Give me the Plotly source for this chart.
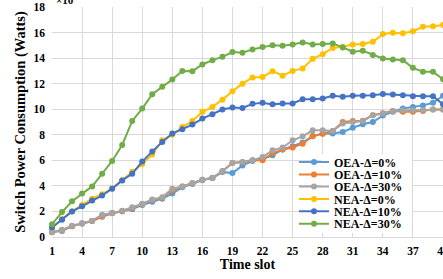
import plotly.graph_objects as go

time_slot = list(range(1, 41))

oea_0 = [0.4, 0.46, 0.85, 1.05, 1.25, 1.58, 1.85, 2.02, 2.18, 2.5, 2.75, 3.0, 3.4, 3.9, 4.15, 4.45, 4.62, 5.08, 5.0, 5.6,
         5.95, 6.1, 6.4, 6.85, 7.1, 7.4, 7.9, 8.1, 8.1, 8.22, 8.55, 8.82, 9.0, 9.5, 9.8, 10.05, 10.18, 10.3, 10.5, 11.05]
oea_10 = [0.38, 0.52, 0.85, 1.05, 1.25, 1.62, 1.87, 2.02, 2.25, 2.58, 2.9, 3.08, 3.65, 3.95, 4.2, 4.48, 4.62, 5.15, 5.8, 5.85,
          6.0, 6.0, 6.57, 6.84, 7.0, 7.3, 7.88, 8.09, 8.3, 9.0, 9.08, 9.1, 9.53, 9.68, 9.87, 9.8, 9.8, 9.87, 9.98, 9.98]
oea_30 = [0.38, 0.56, 0.88, 1.07, 1.28, 1.74, 1.87, 2.06, 2.32, 2.6, 2.94, 3.12, 3.78, 3.96, 4.22, 4.48, 4.64, 5.16, 5.79, 5.87,
          6.0, 6.26, 6.78, 7.0, 7.57, 7.88, 8.35, 8.35, 8.3, 8.88, 9.0, 9.08, 9.53, 9.66, 9.87, 9.92, 9.92, 9.94, 9.98, 9.98]
nea_0 = [0.7, 1.4, 2.0, 2.5, 3.0, 3.35, 3.8, 4.45, 5.1, 5.72, 6.45, 7.57, 8.0, 8.6, 9.08, 9.8, 10.18, 10.75, 11.4, 12.0,
         12.49, 12.53, 12.98, 12.62, 13.0, 13.19, 13.95, 14.31, 14.8, 14.89, 15.07, 15.1, 15.28, 15.88, 15.98, 15.94, 16.1, 16.45, 16.5, 16.59]
nea_10 = [0.75, 1.35, 2.0, 2.4, 2.85, 3.25, 3.78, 4.43, 4.95, 5.9, 6.7, 7.44, 8.1, 8.43, 8.8, 9.27, 9.6, 9.98, 10.13, 10.1,
          10.42, 10.5, 10.38, 10.45, 10.45, 10.78, 10.78, 10.84, 11.05, 10.97, 11.05, 11.05, 11.1, 11.2, 11.15, 11.1, 11.02, 11.02, 11.02, 10.39]
nea_30 = [1.0, 1.95, 2.8, 3.4, 3.96, 4.95, 5.95, 7.2, 9.08, 10.05, 11.18, 11.75, 12.33, 13.0, 12.98, 13.5, 13.84, 14.1, 14.47, 14.42,
          14.68, 14.86, 15.0, 14.97, 15.07, 15.23, 15.07, 15.1, 15.15, 14.84, 14.5, 14.57, 14.24, 13.97, 13.9, 13.84, 13.24, 12.93, 12.93, 12.35]

series_names = ["OEA-Δ=0%", "OEA-Δ=10%", "OEA-Δ=30%", "NEA-Δ=0%", "NEA-Δ=10%", "NEA-Δ=30%"]
series_values = [oea_0, oea_10, oea_30, nea_0, nea_10, nea_30]
colors = ["#5B9BD5", "#ED7D31", "#A5A5A5", "#FFC000", "#4472C4", "#70AD47"]

x_ticks = list(range(1, 41, 3))
y_ticks = list(range(0, 19, 2))

FONT = "Liberation Serif"

# figure geometry (pixels)
W, H = 443, 279
ML, MR, MT, MB = 52, 0, 7, 42
PW, PH = W - ML - MR, H - MT - MB


def px_x(p):
    return (p - ML) / PW


def px_y(p):
    return (H - MB - p) / PH


fig = go.Figure()
legend_keys = ["legend", "legend2", "legend3", "legend4", "legend5", "legend6"]
for name, vals, col, lk in zip(series_names, series_values, colors, legend_keys):
    fig.add_trace(go.Scatter(
        x=time_slot, y=vals, name=name, mode="lines+markers",
        line=dict(color=col, width=2),
        marker=dict(color=col, size=6, symbol="circle"),
        cliponaxis=False, legend=lk,
    ))

# legend entries: one native legend per series, stacked closely like the reference
legend_centers = [162, 174.5, 186.5, 199, 211.3, 223.7]
legend_layout = {}
for lk, cy in zip(legend_keys, legend_centers):
    legend_layout[lk] = dict(
        x=px_x(294), y=px_y(cy), xanchor="left", yanchor="middle",
        bgcolor="rgba(0,0,0,0)", borderwidth=0,
        font=dict(family=FONT, size=12, color="#000000", weight="bold"),
        itemwidth=30,
    )

fig.update_layout(
    width=W, height=H,
    margin=dict(l=ML, r=MR, t=MT, b=MB, autoexpand=False),
    paper_bgcolor="white", plot_bgcolor="white",
    font=dict(family=FONT, size=12, color="#000000"),
    showlegend=True,
    xaxis=dict(
        range=[1, 40], tickmode="array", tickvals=x_ticks,
        ticktext=[f"<b>{t}</b>" for t in x_ticks],
        showgrid=True, gridcolor="#D9D9D9", gridwidth=1,
        showline=True, linecolor="#D9D9D9", linewidth=1,
        zeroline=False, ticks="", automargin=False,
        ticklabeloverflow="allow",
        tickfont=dict(family=FONT, size=11.5, color="#000000"),
        ticklabelstandoff=3,
        title=dict(text="<b>Time slot</b>", font=dict(family=FONT, size=14, color="#000000"), standoff=2),
    ),
    yaxis=dict(
        range=[0, 18], tickmode="array", tickvals=y_ticks,
        ticktext=[f"<b>{t}</b>" for t in y_ticks],
        showgrid=True, gridcolor="#D9D9D9", gridwidth=1,
        showline=False, zeroline=False, ticks="", automargin=False,
        ticklabeloverflow="allow",
        tickfont=dict(family=FONT, size=11.5, color="#000000"),
        ticklabelstandoff=6,
        title=dict(text="<b>Switch Power Consumption (Watts)</b>", font=dict(family=FONT, size=14.5, color="#000000"), standoff=4),
    ),
    **legend_layout,
)

# white legend background box (as in the reference)
fig.add_shape(
    type="rect", xref="paper", yref="paper",
    x0=px_x(321), x1=px_x(412), y0=px_y(233), y1=px_y(154),
    fillcolor="white", line=dict(width=0), layer="above",
)

fig.add_annotation(
    xref="paper", yref="paper", x=0.0, y=1.0, xanchor="left", yanchor="bottom",
    xshift=2, yshift=-1,
    text="<b>×10<sup>4</sup></b>", showarrow=False,
    font=dict(family=FONT, size=11, color="#000000"),
)

fig.write_html("out.html", config={"displayModeBar": False},
               post_script="document.body.style.margin='0px';")
